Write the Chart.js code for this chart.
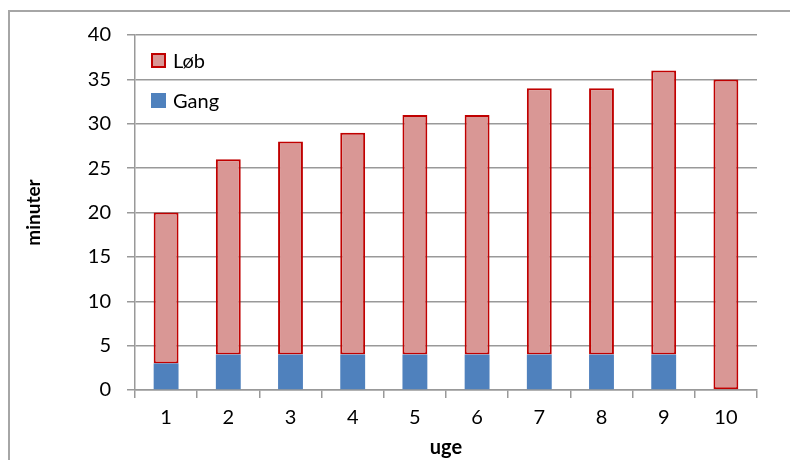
<!DOCTYPE html>
<html>
<head>
<meta charset="utf-8">
<script src="https://cdn.jsdelivr.net/npm/chart.js@4"></script>
<style>
  html, body { margin: 0; padding: 0; background: #fff; }
  #wrap { position: relative; width: 790px; height: 460px; overflow: hidden; }
  #frame { position: absolute; left: 8px; top: 10px; width: 900px; height: 600px;
           border-left: 2px solid #a6a6a6; border-top: 2px solid #a6a6a6; }
  #legend { position: absolute; left: 151px; top: 40px; font-family: Lato, "Open Sans", sans-serif;
            font-size: 20px; color: #000; }
  #legend div { height: 40px; display: flex; align-items: center; }
  #legend span.sw { display: inline-block; width: 15px; height: 15px; margin-right: 7px; box-sizing: border-box; }
</style>
</head>
<body>
<div id="wrap">
  <div id="frame"></div>
  <canvas id="chart" width="790" height="460"></canvas>
  <div id="legend"></div>
</div>
<script>
'use strict';

const weeks = ['1', '2', '3', '4', '5', '6', '7', '8', '9', '10'];
const gang = [3, 4, 4, 4, 4, 4, 4, 4, 4, 0];
const loeb = [17, 22, 24, 25, 27, 27, 30, 30, 32, 35];
const yTicks = [0, 5, 10, 15, 20, 25, 30, 35, 40];

const fontFamily = 'Lato, "Open Sans", sans-serif';
const gridColor = '#999999';

const datasets = [
    {
        label: 'Gang',
        data: gang,
        backgroundColor: '#4F81BD',
        borderWidth: 0
    },
    {
        label: 'Løb',
        data: loeb,
        backgroundColor: '#D99795',
        borderColor: '#C00000',
        borderWidth: 2,
        borderSkipped: false
    }
];

const chart = new Chart(document.getElementById('chart').getContext('2d'), {
    type: 'bar',
    data: { labels: weeks, datasets: datasets },
    options: {
        responsive: false,
        animation: false,
        devicePixelRatio: 1,
        layout: { padding: { left: 0, top: 35, right: 33, bottom: 0 } },
        datasets: { bar: { barPercentage: 0.8, categoryPercentage: 0.5 } },
        plugins: { legend: { display: false }, tooltip: { enabled: false } },
        scales: {
            x: {
                stacked: true,
                grid: { drawOnChartArea: false, drawTicks: true, tickLength: 8, color: gridColor, lineWidth: 1.5 },
                border: { color: gridColor, width: 1.5 },
                ticks: { color: '#000', font: { family: fontFamily, size: 20 }, padding: 8 },
                title: { display: true, text: 'uge', color: '#000',
                         font: { family: fontFamily, size: 20, weight: 'bold' }, padding: { top: 0, bottom: 0 } },
                afterFit: function (scale) { scale.height = 70; }
            },
            y: {
                stacked: true,
                min: 0,
                max: 40,
                afterBuildTicks: function (scale) { scale.ticks = yTicks.map(v => ({ value: v })); },
                grid: { color: gridColor, lineWidth: 1.5, tickLength: 8 },
                border: { color: gridColor, width: 1.5 },
                ticks: { color: '#000', font: { family: fontFamily, size: 20 }, padding: 16 },
                title: { display: true, text: 'minuter', color: '#000',
                         font: { family: fontFamily, size: 19, weight: 'bold' }, padding: { top: 22 } },
                afterFit: function (scale) { scale.width = 135; }
            }
        }
    }
});

// legend (reversed order like the reference)
const legend = document.getElementById('legend');
datasets.slice().reverse().forEach(function (ds) {
    const row = document.createElement('div');
    const sw = document.createElement('span');
    sw.className = 'sw';
    sw.style.background = ds.backgroundColor;
    if (ds.borderWidth) sw.style.border = '2px solid ' + ds.borderColor;
    row.appendChild(sw);
    row.appendChild(document.createTextNode(ds.label));
    legend.appendChild(row);
});
</script>
</body>
</html>
